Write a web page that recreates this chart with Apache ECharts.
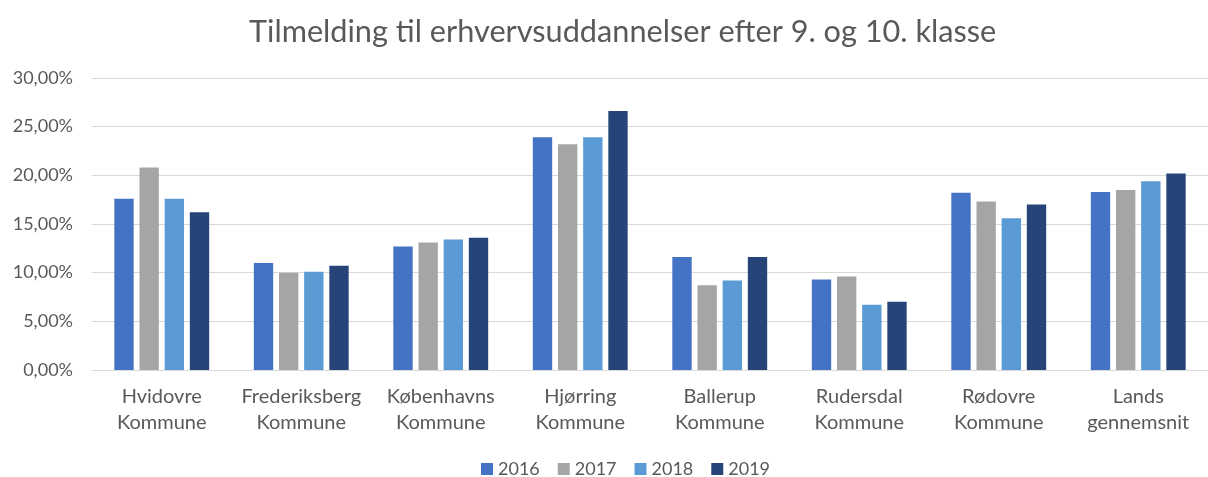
<!DOCTYPE html>
<html>
<head>
<meta charset="utf-8">
<script src="https://cdn.jsdelivr.net/npm/echarts@6/dist/echarts.min.js"></script>
<style>
  html, body { margin: 0; padding: 0; background: #fff; }
  #chart { width: 1208px; height: 477px; }
</style>
</head>
<body>
<div id="chart"></div>
<script>
const categories = [
  "Hvidovre\nKommune", "Frederiksberg\nKommune", "Københavns\nKommune", "Hjørring\nKommune",
  "Ballerup\nKommune", "Rudersdal\nKommune", "Rødovre\nKommune", "Lands\ngennemsnit"
];
const years = ["2016", "2017", "2018", "2019"];
const values2016 = [17.6, 11.0, 12.7, 23.9, 11.6, 9.3, 18.2, 18.3];
const values2017 = [20.8, 10.0, 13.1, 23.2, 8.7, 9.6, 17.3, 18.5];
const values2018 = [17.6, 10.1, 13.4, 23.9, 9.2, 6.7, 15.6, 19.4];
const values2019 = [16.2, 10.7, 13.6, 26.6, 11.6, 7.0, 17.0, 20.2];
const colors = ["#4472C4", "#A5A5A5", "#5B9BD5", "#264478"];

let fontColor = "#595959";
let font = "Lato";
const chart = echarts.init(document.getElementById("chart"));
const dataList = [values2016, values2017, values2018, values2019];

const option = {
  color: colors,
  backgroundColor: "#fff",
  textStyle: { fontFamily: font },
  title: {
    text: "Tilmelding til erhvervsuddannelser efter 9. og 10. klasse",
    left: 244,
    top: 12,
    textStyle: { color: fontColor, fontSize: 30.7, fontWeight: "normal", fontFamily: font },
  },
  legend: {
    data: years,
    top: 455,
    left: 476,
    itemWidth: 12,
    itemHeight: 12,
    itemGap: 18,
    icon: "rect",
    textStyle: { color: fontColor, fontSize: 18, fontFamily: font },
  },
  grid: {
    left: 92,
    top: 78,
    width: 1127,
    height: 292,
  },
  xAxis: {
    type: "category",
    data: categories,
    axisTick: { show: false },
    axisLine: { lineStyle: { color: "#d9d9d9" } },
    axisLabel: {
      interval: 0,
      color: fontColor,
      fontSize: 20,
      lineHeight: 26,
      margin: 14,
      fontFamily: font,
    },
  },
  yAxis: {
    type: "value",
    min: 0,
    max: 30,
    interval: 5,
    axisLine: { show: false },
    axisTick: { show: false },
    splitLine: { lineStyle: { color: "#d9d9d9" } },
    axisLabel: {
      color: fontColor,
      fontSize: 18,
      margin: 19,
      fontFamily: font,
      formatter: (v) => v.toFixed(2).replace(".", ",") + "%",
    },
  },
  series: dataList.map((data, i) => ({
    name: years[i],
    type: "bar",
    data: data,
    barGap: "30%",
    barCategoryGap: "32%",
  })),
};
chart.setOption(option);
</script>
</body>
</html>
